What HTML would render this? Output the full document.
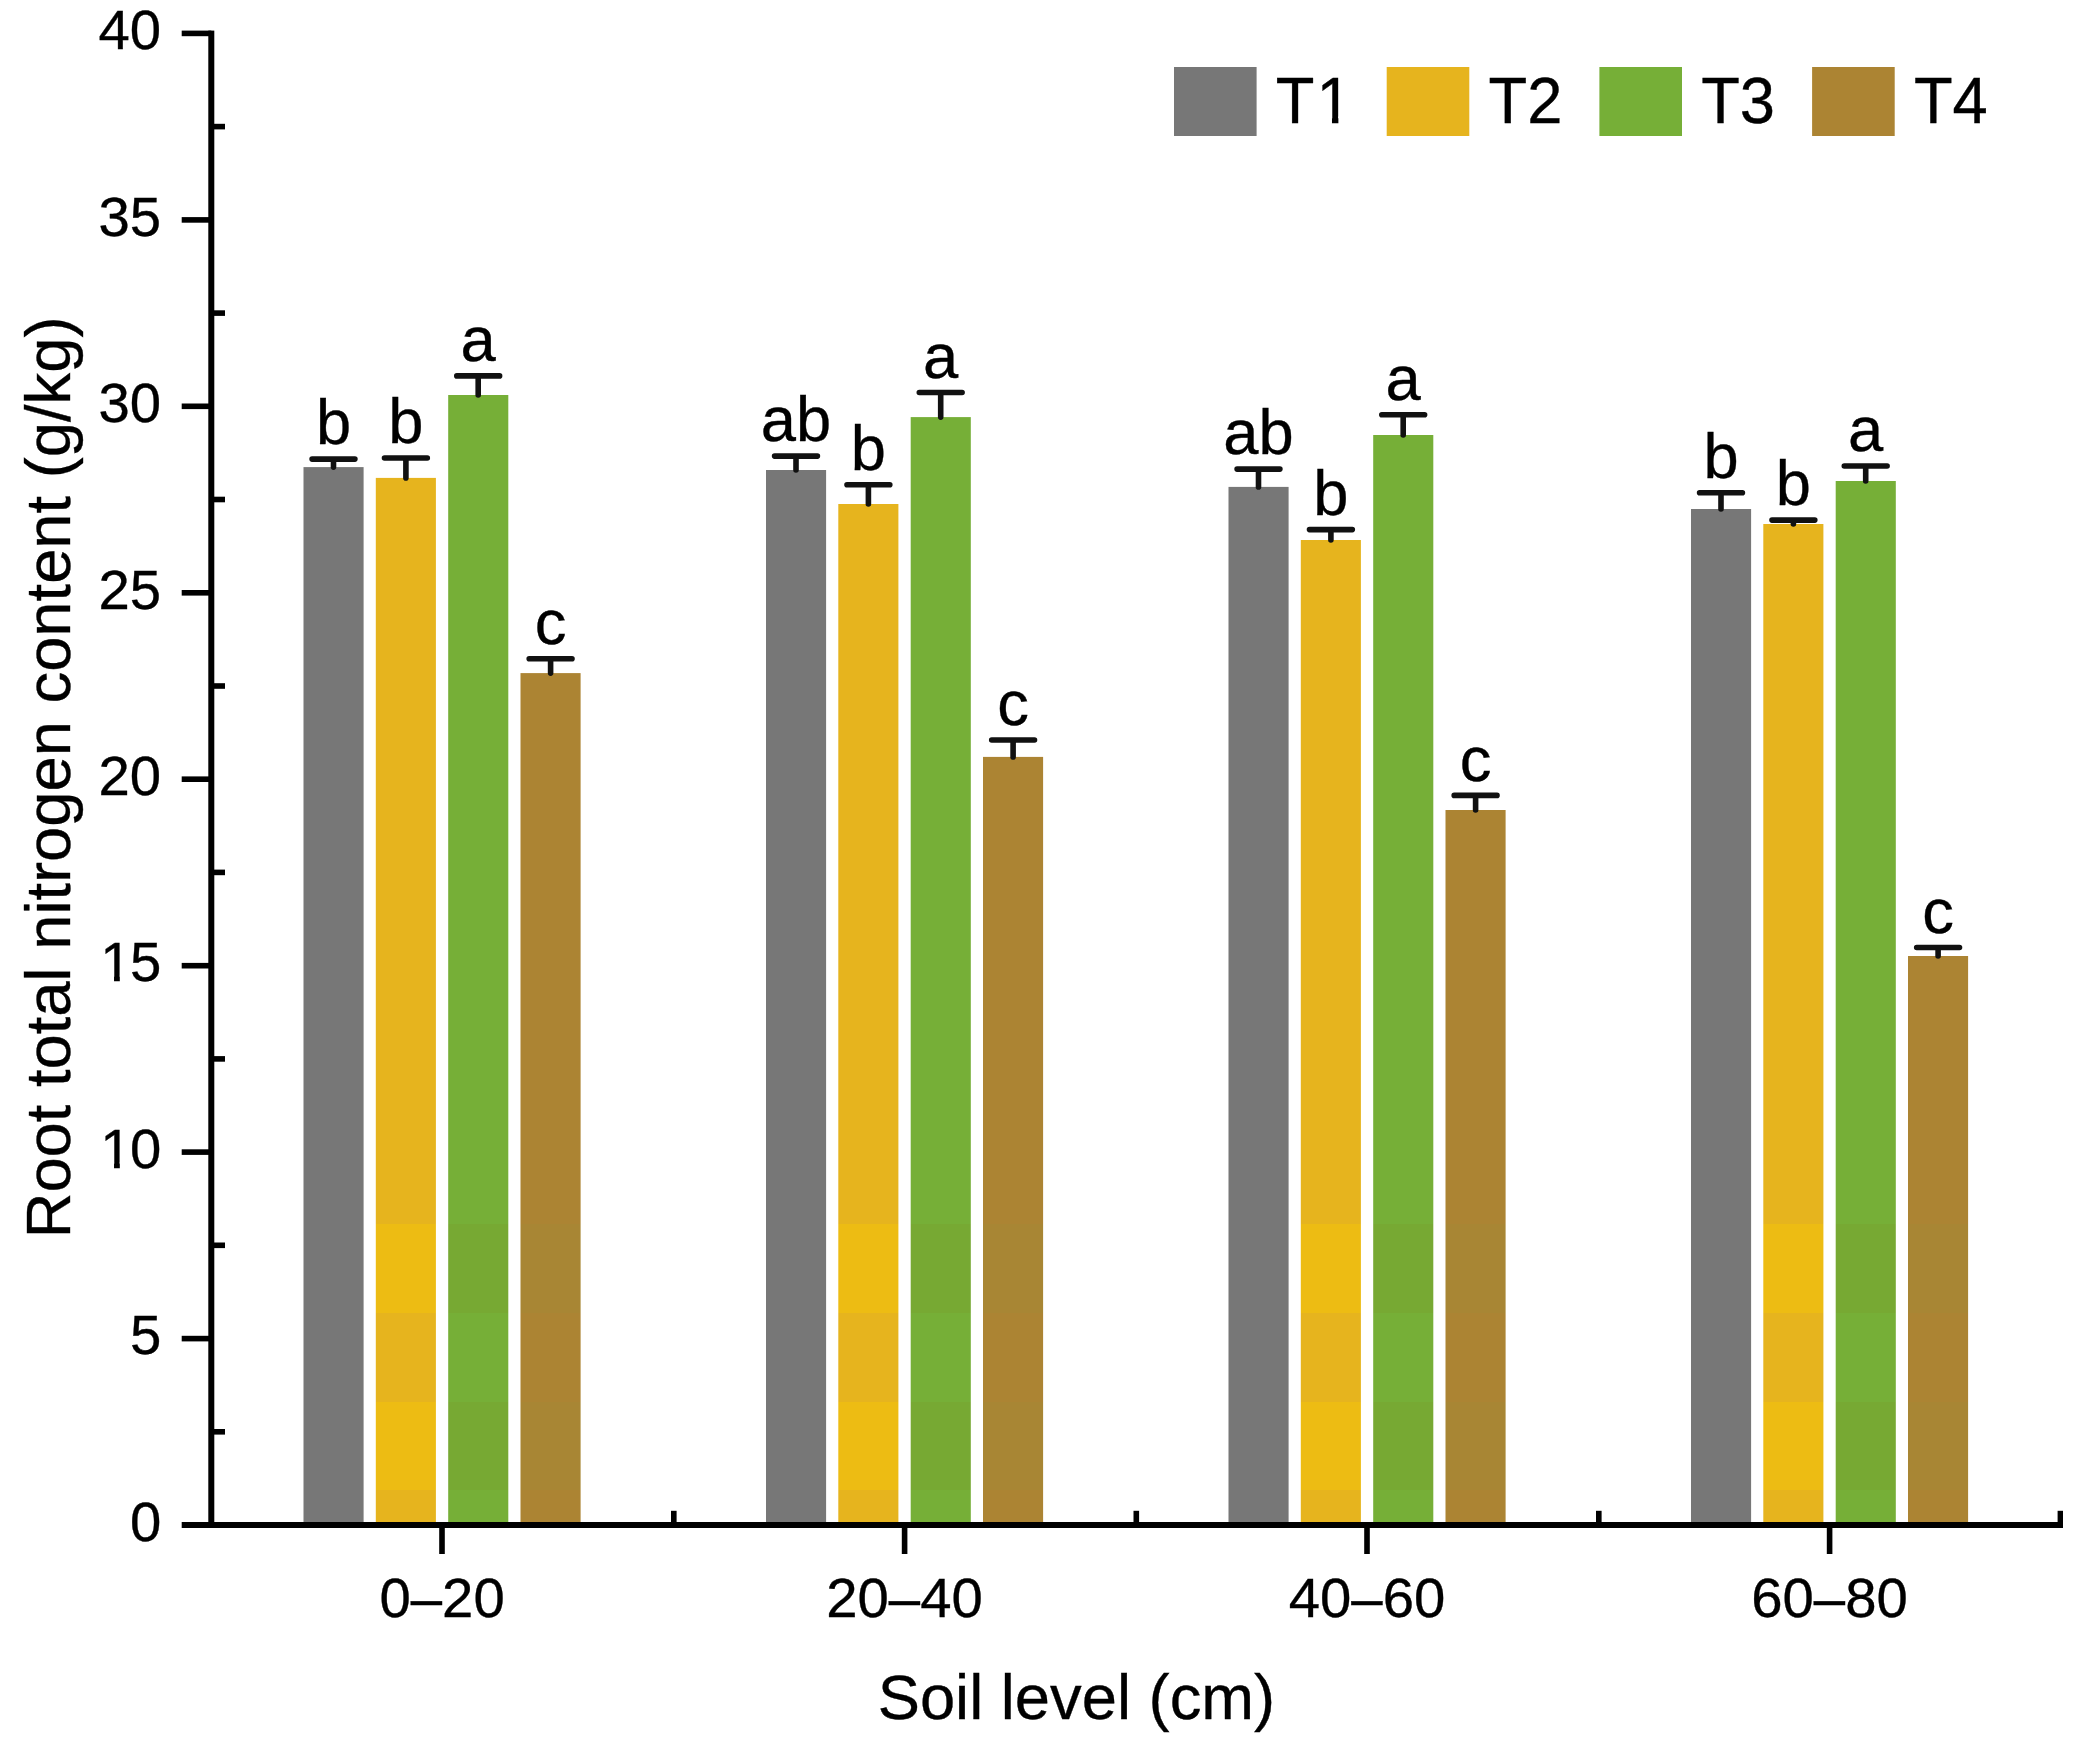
<!DOCTYPE html>
<html lang="en"><head><meta charset="utf-8"><title>Root total nitrogen content</title>
<style>html,body{margin:0;padding:0;background:#fff;overflow:hidden}svg{display:block}text{font-family:"Liberation Sans", Arial, Helvetica, sans-serif;fill:#000;stroke:#000;stroke-width:0.35px}</style></head><body>
<svg width="2086" height="1737" viewBox="0 0 2086 1737">
<rect width="2086" height="1737" fill="#fff"/>
<g shape-rendering="auto">
<rect x="303.5" y="467.1" width="60.1" height="1057.9" fill="#777777"/>
<rect x="375.8" y="477.9" width="60.1" height="746.1" fill="#E6B41E"/>
<rect x="375.8" y="1224.0" width="60.1" height="89.0" fill="#EDBC13"/>
<rect x="375.8" y="1313.0" width="60.1" height="89.0" fill="#E6B41E"/>
<rect x="375.8" y="1402.0" width="60.1" height="88.0" fill="#EDBC13"/>
<rect x="375.8" y="1490.0" width="60.1" height="35.0" fill="#E6B41E"/>
<rect x="448.2" y="395.0" width="60.1" height="829.0" fill="#76AF37"/>
<rect x="448.2" y="1224.0" width="60.1" height="89.0" fill="#77A933"/>
<rect x="448.2" y="1313.0" width="60.1" height="89.0" fill="#76AF37"/>
<rect x="448.2" y="1402.0" width="60.1" height="88.0" fill="#77A933"/>
<rect x="448.2" y="1490.0" width="60.1" height="35.0" fill="#76AF37"/>
<rect x="520.5" y="673.1" width="60.1" height="550.9" fill="#AC8433"/>
<rect x="520.5" y="1224.0" width="60.1" height="89.0" fill="#A88634"/>
<rect x="520.5" y="1313.0" width="60.1" height="89.0" fill="#AC8433"/>
<rect x="520.5" y="1402.0" width="60.1" height="88.0" fill="#A88634"/>
<rect x="520.5" y="1490.0" width="60.1" height="35.0" fill="#AC8433"/>
<rect x="766.0" y="470.0" width="60.1" height="1055.0" fill="#777777"/>
<rect x="838.3" y="504.0" width="60.1" height="720.0" fill="#E6B41E"/>
<rect x="838.3" y="1224.0" width="60.1" height="89.0" fill="#EDBC13"/>
<rect x="838.3" y="1313.0" width="60.1" height="89.0" fill="#E6B41E"/>
<rect x="838.3" y="1402.0" width="60.1" height="88.0" fill="#EDBC13"/>
<rect x="838.3" y="1490.0" width="60.1" height="35.0" fill="#E6B41E"/>
<rect x="910.7" y="417.1" width="60.1" height="806.9" fill="#76AF37"/>
<rect x="910.7" y="1224.0" width="60.1" height="89.0" fill="#77A933"/>
<rect x="910.7" y="1313.0" width="60.1" height="89.0" fill="#76AF37"/>
<rect x="910.7" y="1402.0" width="60.1" height="88.0" fill="#77A933"/>
<rect x="910.7" y="1490.0" width="60.1" height="35.0" fill="#76AF37"/>
<rect x="983.0" y="756.9" width="60.1" height="467.1" fill="#AC8433"/>
<rect x="983.0" y="1224.0" width="60.1" height="89.0" fill="#A88634"/>
<rect x="983.0" y="1313.0" width="60.1" height="89.0" fill="#AC8433"/>
<rect x="983.0" y="1402.0" width="60.1" height="88.0" fill="#A88634"/>
<rect x="983.0" y="1490.0" width="60.1" height="35.0" fill="#AC8433"/>
<rect x="1228.5" y="486.9" width="60.1" height="1038.1" fill="#777777"/>
<rect x="1300.8" y="540.0" width="60.1" height="684.0" fill="#E6B41E"/>
<rect x="1300.8" y="1224.0" width="60.1" height="89.0" fill="#EDBC13"/>
<rect x="1300.8" y="1313.0" width="60.1" height="89.0" fill="#E6B41E"/>
<rect x="1300.8" y="1402.0" width="60.1" height="88.0" fill="#EDBC13"/>
<rect x="1300.8" y="1490.0" width="60.1" height="35.0" fill="#E6B41E"/>
<rect x="1373.2" y="435.0" width="60.1" height="789.0" fill="#76AF37"/>
<rect x="1373.2" y="1224.0" width="60.1" height="89.0" fill="#77A933"/>
<rect x="1373.2" y="1313.0" width="60.1" height="89.0" fill="#76AF37"/>
<rect x="1373.2" y="1402.0" width="60.1" height="88.0" fill="#77A933"/>
<rect x="1373.2" y="1490.0" width="60.1" height="35.0" fill="#76AF37"/>
<rect x="1445.5" y="810.0" width="60.1" height="414.0" fill="#AC8433"/>
<rect x="1445.5" y="1224.0" width="60.1" height="89.0" fill="#A88634"/>
<rect x="1445.5" y="1313.0" width="60.1" height="89.0" fill="#AC8433"/>
<rect x="1445.5" y="1402.0" width="60.1" height="88.0" fill="#A88634"/>
<rect x="1445.5" y="1490.0" width="60.1" height="35.0" fill="#AC8433"/>
<rect x="1691.0" y="509.0" width="60.1" height="1016.0" fill="#777777"/>
<rect x="1763.3" y="524.0" width="60.1" height="700.0" fill="#E6B41E"/>
<rect x="1763.3" y="1224.0" width="60.1" height="89.0" fill="#EDBC13"/>
<rect x="1763.3" y="1313.0" width="60.1" height="89.0" fill="#E6B41E"/>
<rect x="1763.3" y="1402.0" width="60.1" height="88.0" fill="#EDBC13"/>
<rect x="1763.3" y="1490.0" width="60.1" height="35.0" fill="#E6B41E"/>
<rect x="1835.7" y="481.0" width="60.1" height="743.0" fill="#76AF37"/>
<rect x="1835.7" y="1224.0" width="60.1" height="89.0" fill="#77A933"/>
<rect x="1835.7" y="1313.0" width="60.1" height="89.0" fill="#76AF37"/>
<rect x="1835.7" y="1402.0" width="60.1" height="88.0" fill="#77A933"/>
<rect x="1835.7" y="1490.0" width="60.1" height="35.0" fill="#76AF37"/>
<rect x="1908.0" y="956.0" width="60.1" height="268.0" fill="#AC8433"/>
<rect x="1908.0" y="1224.0" width="60.1" height="89.0" fill="#A88634"/>
<rect x="1908.0" y="1313.0" width="60.1" height="89.0" fill="#AC8433"/>
<rect x="1908.0" y="1402.0" width="60.1" height="88.0" fill="#A88634"/>
<rect x="1908.0" y="1490.0" width="60.1" height="35.0" fill="#AC8433"/>
</g>
<g stroke="#111" stroke-width="5.6" stroke-linecap="round" fill="none">
<path d="M312.1 459.1H354.9M333.5 459.1V467.1"/>
<path d="M384.5 458.0H427.3M405.9 458.0V477.9"/>
<path d="M456.8 375.9H499.6M478.2 375.9V395.0"/>
<path d="M529.2 658.7H572.0M550.6 658.7V673.1"/>
<path d="M774.6 456.1H817.4M796.0 456.1V470.0"/>
<path d="M847.0 484.8H889.8M868.4 484.8V504.0"/>
<path d="M919.3 392.5H962.1M940.7 392.5V417.1"/>
<path d="M991.7 740.0H1034.5M1013.1 740.0V756.9"/>
<path d="M1237.1 469.1H1279.9M1258.5 469.1V486.9"/>
<path d="M1309.5 529.6H1352.3M1330.9 529.6V540.0"/>
<path d="M1381.8 414.8H1424.6M1403.2 414.8V435.0"/>
<path d="M1454.2 795.4H1497.0M1475.6 795.4V810.0"/>
<path d="M1699.6 492.7H1742.4M1721.0 492.7V509.0"/>
<path d="M1772.0 520.1H1814.8M1793.4 520.1V524.0"/>
<path d="M1844.3 466.0H1887.1M1865.7 466.0V481.0"/>
<path d="M1916.7 947.5H1959.5M1938.1 947.5V956.0"/>
</g>
<g font-size="63.3" text-anchor="middle">
<text transform="translate(333.5 444.2) scale(1 0.99)">b</text>
<text transform="translate(405.9 443.1) scale(1 0.99)">b</text>
<text x="478.2" y="361.0">a</text>
<text x="550.6" y="643.8">c</text>
<text x="778.4" y="441.2">a</text>
<text transform="translate(813.6 441.2) scale(1 0.99)">b</text>
<text transform="translate(868.4 469.9) scale(1 0.99)">b</text>
<text x="940.7" y="377.6">a</text>
<text x="1013.1" y="725.1">c</text>
<text x="1240.9" y="454.2">a</text>
<text transform="translate(1276.1 454.2) scale(1 0.99)">b</text>
<text transform="translate(1330.9 514.7) scale(1 0.99)">b</text>
<text x="1403.2" y="399.9">a</text>
<text x="1475.6" y="780.5">c</text>
<text transform="translate(1721.0 477.8) scale(1 0.99)">b</text>
<text transform="translate(1793.4 505.2) scale(1 0.99)">b</text>
<text x="1865.7" y="451.1">a</text>
<text x="1938.1" y="932.6">c</text>
</g>
<g fill="#000">
<rect x="208.3" y="30.6" width="6" height="1497.4"/>
<rect x="181.7" y="1522.0" width="1881.3" height="6"/>
<rect x="181.7" y="1335.8" width="29.6" height="5.6"/>
<rect x="181.7" y="1149.3" width="29.6" height="5.6"/>
<rect x="181.7" y="962.9" width="29.6" height="5.6"/>
<rect x="181.7" y="776.4" width="29.6" height="5.6"/>
<rect x="181.7" y="590.0" width="29.6" height="5.6"/>
<rect x="181.7" y="403.5" width="29.6" height="5.6"/>
<rect x="181.7" y="217.1" width="29.6" height="5.6"/>
<rect x="181.7" y="30.6" width="29.6" height="5.6"/>
<rect x="211.3" y="1429.0" width="13.7" height="5.6"/>
<rect x="211.3" y="1242.5" width="13.7" height="5.6"/>
<rect x="211.3" y="1056.1" width="13.7" height="5.6"/>
<rect x="211.3" y="869.6" width="13.7" height="5.6"/>
<rect x="211.3" y="683.2" width="13.7" height="5.6"/>
<rect x="211.3" y="496.7" width="13.7" height="5.6"/>
<rect x="211.3" y="310.3" width="13.7" height="5.6"/>
<rect x="211.3" y="123.8" width="13.7" height="5.6"/>
<rect x="439.2" y="1525.0" width="5.6" height="29.0"/>
<rect x="671.0" y="1510.8" width="5.6" height="14.2"/>
<rect x="901.8" y="1525.0" width="5.6" height="29.0"/>
<rect x="1133.5" y="1510.8" width="5.6" height="14.2"/>
<rect x="1364.2" y="1525.0" width="5.6" height="29.0"/>
<rect x="1596.0" y="1510.8" width="5.6" height="14.2"/>
<rect x="1826.8" y="1525.0" width="5.6" height="29.0"/>
<rect x="2057.6" y="1510.8" width="5.4" height="14.2"/>
</g>
<g font-size="56.3" text-anchor="end">
<text x="161.2" y="1540.8">0</text>
<text x="161.2" y="1354.3">5</text>
<text text-anchor="start" x="100.28" y="1167.9">1<tspan x="129.89">0</tspan></text>
<text text-anchor="start" x="100.28" y="981.4">1<tspan x="129.89">5</tspan></text>
<text x="161.2" y="795.0">20</text>
<text x="161.2" y="608.5">25</text>
<text x="161.2" y="422.1">30</text>
<text x="161.2" y="235.7">35</text>
<text x="161.2" y="49.2">40</text>
</g>
<g font-size="56.3" text-anchor="middle">
<text transform="translate(442.1 1617.3)">0–20</text>
<text transform="translate(904.5 1617.3)">20–40</text>
<text transform="translate(1367.0 1617.3)">40–60</text>
<text transform="translate(1829.5 1617.3)">60–80</text>
</g>
<text font-size="63.3" x="1076.4" y="1719.2" text-anchor="middle">Soil level (cm)</text>
<text font-size="63.3" transform="translate(70 777.4) rotate(-90)" text-anchor="middle">Root total nitrogen content (g/kg)</text>
<g font-size="63.3">
<rect x="1174.0" y="67" width="82.6" height="69" fill="#777777"/>
<text transform="translate(1275.8 122.9) scale(1 1.025)">T<tspan dx="2.0">1</tspan></text>
<rect x="1386.7" y="67" width="82.6" height="69" fill="#E6B41E"/>
<text transform="translate(1488.5 122.9) scale(1 1.025)">T2</text>
<rect x="1599.4" y="67" width="82.6" height="69" fill="#76AF37"/>
<text transform="translate(1701.2 122.9) scale(1 1.025)">T3</text>
<rect x="1812.1" y="67" width="82.6" height="69" fill="#AC8433"/>
<text transform="translate(1913.9 122.9) scale(1 1.025)">T4</text>
</g>
<g fill="#fff">
<rect x="103.85" y="1162.09" width="10.18" height="7.61"/>
<rect x="119.81" y="1162.09" width="9.73" height="7.61"/>
<rect x="103.85" y="975.64" width="10.18" height="7.61"/>
<rect x="119.81" y="975.64" width="9.73" height="7.61"/>
<rect x="1320.48" y="116.45" width="11.50" height="8.25"/>
<rect x="1338.38" y="116.45" width="10.94" height="8.25"/>
</g>
</svg></body></html>
